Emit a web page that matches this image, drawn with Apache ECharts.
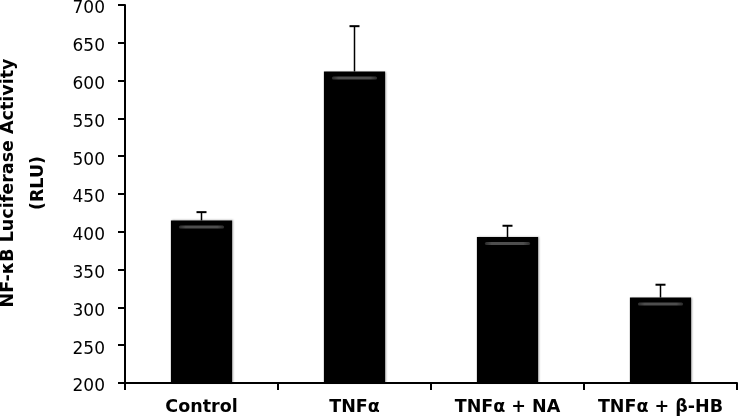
<!DOCTYPE html>
<html>
<head>
<meta charset="utf-8">
<script src="https://cdn.jsdelivr.net/npm/echarts@6/dist/echarts.min.js"></script>
<style>
html,body{margin:0;padding:0;background:#fff;}
#c{width:739px;height:418px;}
</style>
</head>
<body>
<div id="c"></div>
<script>
var categories = ['Control', 'TNF\u03b1', 'TNF\u03b1 + NA', 'TNF\u03b1 + \u03b2-HB'];
var means = [415, 612, 393, 313];
var errors = [11, 60, 15, 17];
var yTicks = {min: 200, max: 700, interval: 50};

var chart = echarts.init(document.getElementById('c'), null, {renderer: 'canvas'});

var errData = means.map(function (m, i) { return [i, m, m + errors[i]]; });
var stripeData = means.map(function (m, i) { return [i, m]; });

var option = {
  animation: false,
  backgroundColor: '#ffffff',
  grid: {left: 125, right: 2, top: 5, bottom: 35, containLabel: false, outerBoundsMode: 'none'},
  xAxis: {
    type: 'category',
    data: categories,
    boundaryGap: true,
    axisLine: {lineStyle: {color: '#000', width: 2}},
    axisTick: {show: true, alignWithLabel: false, length: 7, lineStyle: {color: '#000', width: 2}},
    axisLabel: {color: '#000', fontFamily: 'DejaVu Sans', fontWeight: 'bold', fontSize: 17.5, margin: 15, interval: 0},
    splitLine: {show: false}
  },
  yAxis: {
    type: 'value',
    min: yTicks.min, max: yTicks.max, interval: yTicks.interval,
    name: 'NF-\u03baB Luciferase Activity\n(RLU)',
    nameLocation: 'middle',
    nameGap: 72,
    nameTextStyle: {color: '#000', fontFamily: 'DejaVu Sans', fontWeight: 'bold', fontSize: 17.5, lineHeight: 30, align: 'center', padding: [0, 0, 0, 22]},
    axisLine: {show: true, lineStyle: {color: '#000', width: 2}},
    axisTick: {show: true, length: 7, lineStyle: {color: '#000', width: 2}},
    axisLabel: {
      color: '#000', margin: 20,
      formatter: '{v|{value}}',
      rich: {v: {color: '#000', fontFamily: 'DejaVu Sans', fontSize: 17, padding: [8, 0, 0, 0]}}
    },
    splitLine: {show: false}
  },
  series: [
    {
      type: 'bar',
      data: means,
      barWidth: '40%',
      itemStyle: {color: '#000', shadowColor: 'rgba(0,0,0,0.35)', shadowBlur: 2, shadowOffsetX: 1, shadowOffsetY: 0},
      z: 2
    },
    {
      type: 'custom',
      data: stripeData,
      z: 3,
      renderItem: function (params, api) {
        var p = api.coord([api.value(0), api.value(1)]);
        var bw = api.size([1, 0])[0] * 0.4;
        var inset = 8;
        return {
          type: 'rect',
          shape: {x: p[0] - bw / 2 + inset, y: p[1] + 5, width: bw - 2 * inset, height: 3, r: 1.5},
          style: {fill: new echarts.graphic.LinearGradient(0, 0, 1, 0, [
            {offset: 0, color: '#2a2a2a'}, {offset: 0.15, color: '#4e4e4e'},
            {offset: 0.85, color: '#4e4e4e'}, {offset: 1, color: '#2a2a2a'}])}
        };
      }
    },
    {
      type: 'custom',
      data: errData,
      z: 4,
      renderItem: function (params, api) {
        var i = api.value(0);
        var lo = api.coord([i, api.value(1)]);
        var hi = api.coord([i, api.value(2)]);
        var cap = 5;
        return {
          type: 'group',
          children: [
            {type: 'line', shape: {x1: lo[0], y1: lo[1], x2: hi[0], y2: hi[1]}, style: {stroke: '#000', lineWidth: 1.5}},
            {type: 'line', shape: {x1: hi[0] - cap, y1: hi[1], x2: hi[0] + cap, y2: hi[1]}, style: {stroke: '#000', lineWidth: 2}}
          ]
        };
      }
    }
  ]
};
chart.setOption(option);
</script>
</body>
</html>
